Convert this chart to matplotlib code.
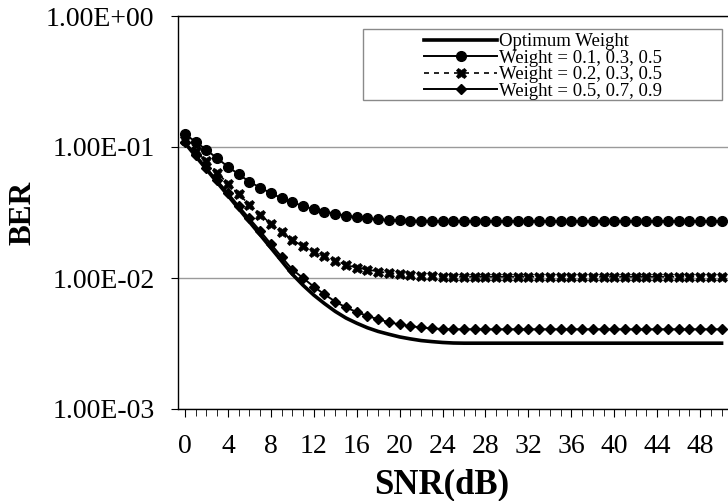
import matplotlib
matplotlib.use("Agg")
import matplotlib.pyplot as plt
from matplotlib.patches import Rectangle
from matplotlib.ticker import FixedLocator, NullLocator, FixedFormatter

snr = list(range(0, 51))

ber_optimum = [0.1072, 0.0851, 0.0676, 0.0537, 0.0427, 0.0339, 0.0269, 0.0214, 0.0170, 0.0135,
               0.0107, 0.00881, 0.00741, 0.00638, 0.00556, 0.00495, 0.00452, 0.00417, 0.00391, 0.00372,
               0.00355, 0.00343, 0.00333, 0.00327, 0.00322, 0.00319, 0.00318, 0.00318, 0.00318, 0.00318,
               0.00318, 0.00318, 0.00318, 0.00318, 0.00318, 0.00318, 0.00318, 0.00318, 0.00318, 0.00318,
               0.00318, 0.00318, 0.00318, 0.00318, 0.00318, 0.00318, 0.00318, 0.00318, 0.00318, 0.00318,
               0.00318]

ber_w1 = [0.1250, 0.1096, 0.0948, 0.0820, 0.0708, 0.0619, 0.0543, 0.0490, 0.0444, 0.0407,
          0.0378, 0.0355, 0.0334, 0.0321, 0.0310, 0.0299, 0.0292, 0.0286, 0.0281, 0.0277,
          0.0275, 0.0274, 0.0274, 0.0273, 0.0272, 0.0272, 0.0272, 0.0272, 0.0272, 0.0272,
          0.0272, 0.0272, 0.0272, 0.0272, 0.0272, 0.0272, 0.0272, 0.0272, 0.0272, 0.0272,
          0.0272, 0.0272, 0.0272, 0.0272, 0.0272, 0.0272, 0.0272, 0.0272, 0.0272, 0.0272,
          0.0272]

ber_w2 = [0.1122, 0.0933, 0.0776, 0.0638, 0.0525, 0.0437, 0.0363, 0.0305, 0.0260, 0.0224,
          0.0195, 0.0175, 0.0159, 0.0146, 0.0136, 0.0126, 0.0120, 0.0116, 0.0112, 0.0109,
          0.0107, 0.0105, 0.0104, 0.0103, 0.0102, 0.0102, 0.0102, 0.0102, 0.0102, 0.0102,
          0.0102, 0.0102, 0.0102, 0.0102, 0.0102, 0.0102, 0.0102, 0.0102, 0.0102, 0.0102,
          0.0102, 0.0102, 0.0102, 0.0102, 0.0102, 0.0102, 0.0102, 0.0102, 0.0102, 0.0102,
          0.0102]

ber_w3 = [0.1096, 0.0871, 0.0692, 0.0556, 0.0447, 0.0355, 0.0285, 0.0229, 0.0182, 0.0145,
          0.0116, 0.0100, 0.00859, 0.00750, 0.00661, 0.00596, 0.00550, 0.00513, 0.00484, 0.00460,
          0.00442, 0.00429, 0.00419, 0.00412, 0.00408, 0.00406, 0.00406, 0.00406, 0.00406, 0.00406,
          0.00406, 0.00406, 0.00406, 0.00406, 0.00406, 0.00406, 0.00406, 0.00406, 0.00406, 0.00406,
          0.00406, 0.00406, 0.00406, 0.00406, 0.00406, 0.00406, 0.00406, 0.00406, 0.00406, 0.00406,
          0.00406]

legend_labels = ["Optimum Weight", "Weight = 0.1, 0.3, 0.5",
                 "Weight = 0.2, 0.3, 0.5", "Weight = 0.5, 0.7, 0.9"]
y_ticks = [1e-3, 1e-2, 1e-1, 1e0]
y_tick_labels = ["1.00E-03", "1.00E-02", "1.00E-01", "1.00E+00"]
x_ticks = list(range(0, 49, 4))
x_tick_labels = [str(v) for v in x_ticks]

plt.rcParams['font.family'] = ['Liberation Serif', 'DejaVu Serif']

W, H = 728, 501
fig = plt.figure(figsize=(W / 100, H / 100), dpi=100)
ax = fig.add_axes([178 / W, (H - 409) / H, (W - 178) / W, (409 - 16) / H])

ax.plot(snr, ber_optimum, color='black', lw=2.6, label=legend_labels[0], zorder=3)
ax.plot(snr, ber_w1, color='black', lw=1.4, marker='o', ms=7, label=legend_labels[1], zorder=4)
ax.plot(snr, ber_w2, color='black', lw=1.2, ls=(0, (3, 3)), marker='X', ms=7.5,
        markeredgewidth=0.5, label=legend_labels[2], zorder=4)
ax.plot(snr, ber_w3, color='black', lw=1.4, marker='D', ms=5.2, label=legend_labels[3], zorder=4)

ax.set_yscale('log')
ax.set_ylim(1e-3, 1e0)
ax.set_xlim(-0.65, 50.6)

ax.yaxis.set_major_locator(FixedLocator(y_ticks))
ax.yaxis.set_major_formatter(FixedFormatter(y_tick_labels))
ax.yaxis.set_minor_locator(NullLocator())
ax.xaxis.set_major_locator(FixedLocator(x_ticks))
ax.xaxis.set_major_formatter(FixedFormatter(x_tick_labels))
ax.xaxis.set_minor_locator(FixedLocator(snr))

ax.tick_params(axis='y', which='major', length=5, width=0.8, pad=12, labelsize=20, direction='out')
ax.tick_params(axis='x', which='major', length=6, width=0.8, pad=12, labelsize=20, direction='out')
ax.tick_params(axis='x', which='minor', length=5, width=0.6, direction='out')

ax.grid(True, axis='y', which='major', color='#9a9a9a', lw=1.0)
ax.set_axisbelow(True)

for side in ['left', 'bottom', 'top']:
    ax.spines[side].set_color('black')
    ax.spines[side].set_linewidth(1.0)
ax.spines['right'].set_visible(False)

ax.set_ylabel('BER', fontsize=22.5, fontweight='bold')
ax.yaxis.set_label_coords(-0.255, 0.5)
ax.set_xlabel('SNR(dB)', fontsize=25, fontweight='bold')
ax.xaxis.set_label_coords(0.48, -0.15)

# legend frame
frame = Rectangle((363 / W, 1 - 100 / H), (722 - 363) / W, (100 - 29) / H,
                  transform=fig.transFigure, facecolor='white',
                  edgecolor='#8a8a8a', lw=1.0, zorder=5, clip_on=False)
ax.add_patch(frame)
leg = ax.legend(loc='upper left', bbox_to_anchor=(424 / W, 1 - 33 / H),
                bbox_transform=fig.transFigure, frameon=False, fontsize=13.5,
                handlelength=3.9, handletextpad=0.1, labelspacing=-0.03,
                borderpad=0, borderaxespad=0)
leg.set_zorder(6)

fig.savefig('out.png', dpi=100)
